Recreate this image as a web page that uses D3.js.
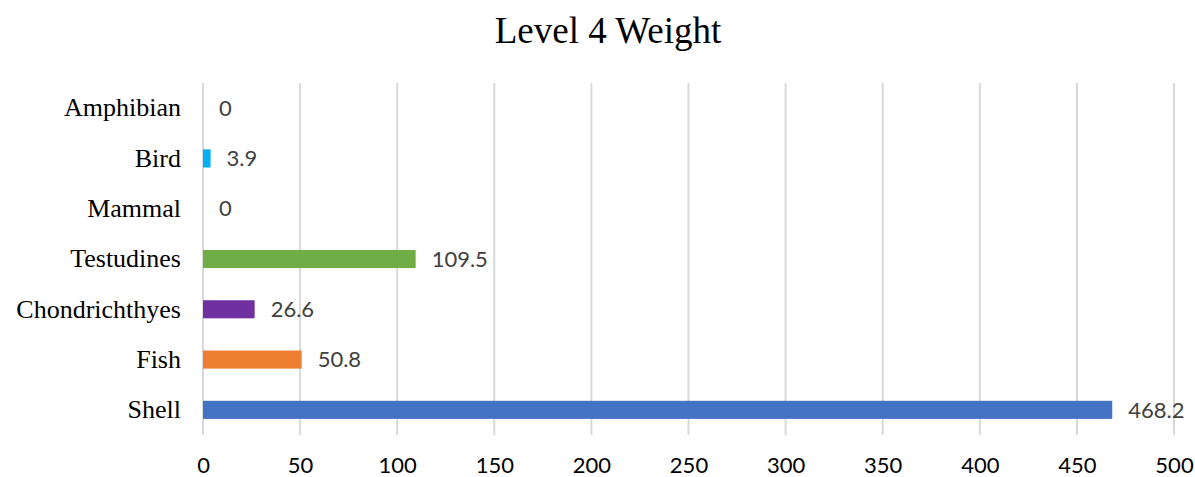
<!DOCTYPE html>
<html>
<head>
<meta charset="utf-8">
<script src="https://cdn.jsdelivr.net/npm/d3@7"></script>
<style>
  html, body { margin: 0; padding: 0; background: #fff; }
  svg { display: block; }
</style>
</head>
<body>
<svg id="chart" width="1195" height="477"></svg>
<script>
// Categories listed top to bottom
const categories = ["Amphibian", "Bird", "Mammal", "Testudines", "Chondrichthyes", "Fish", "Shell"];
const values = [0, 3.9, 0, 109.5, 26.6, 50.8, 468.2];
const barColors = ["#5B9BD5", "#00B0F0", "#A5A5A5", "#70AD47", "#7030A0", "#ED7D31", "#4472C4"];
const xTicks = [0, 50, 100, 150, 200, 250, 300, 350, 400, 450, 500];
const title = "Level 4 Weight";

const svg = d3.select("#chart");
const margin = { left: 203, right: 21, top: 83, bottom: 42 };
const width = 1195, height = 477;

const x = d3.scaleLinear().domain([0, 500]).range([margin.left, width - margin.right]);
const y = d3.scaleBand().domain(categories).range([margin.top, height - margin.bottom]).paddingInner(0.64).paddingOuter(0.32);

const serif = "'Liberation Serif', 'Times New Roman', serif";
const sans = "Lato, 'Open Sans', sans-serif";

// Title
svg.append("text")
  .attr("x", 608).attr("y", 43)
  .attr("text-anchor", "middle")
  .attr("font-family", serif)
  .attr("font-size", 37)
  .attr("fill", "#000")
  .text(title);

// Vertical gridlines
svg.append("g")
  .selectAll("line")
  .data(xTicks)
  .join("line")
  .attr("x1", d => x(d)).attr("x2", d => x(d))
  .attr("y1", margin.top).attr("y2", height - margin.bottom)
  .attr("stroke", "#d9d9d9")
  .attr("stroke-width", 2);

// Bottom axis labels
const xAxis = d3.axisBottom(x).tickValues(xTicks).tickSize(0).tickPadding(0);
const gx = svg.append("g")
  .attr("transform", `translate(0,${height - margin.bottom})`)
  .call(xAxis);
gx.select(".domain").remove();
gx.selectAll("text")
  .attr("dy", null)
  .attr("y", 38)
  .attr("font-family", sans)
  .attr("font-size", 22)
  .attr("fill", "#000");

// Category labels
const yAxis = d3.axisLeft(y).tickSize(0).tickPadding(0);
const gy = svg.append("g")
  .attr("transform", `translate(181,0)`)
  .call(yAxis);
gy.select(".domain").remove();
gy.selectAll("text")
  .attr("font-family", serif)
  .attr("font-size", 26)
  .attr("fill", "#000");

// Bars
svg.append("g")
  .selectAll("rect")
  .data(categories)
  .join("rect")
  .attr("x", x(0))
  .attr("y", d => y(d))
  .attr("width", (d, i) => x(values[i]) - x(0))
  .attr("height", y.bandwidth())
  .attr("fill", (d, i) => barColors[i]);

// Value labels
svg.append("g")
  .selectAll("text")
  .data(categories)
  .join("text")
  .attr("x", (d, i) => x(values[i]) + 16)
  .attr("y", d => y(d) + y.bandwidth() / 2)
  .attr("dy", "0.35em")
  .attr("font-family", sans)
  .attr("font-size", 22)
  .attr("fill", "#404040")
  .text((d, i) => values[i]);
</script>
</body>
</html>
